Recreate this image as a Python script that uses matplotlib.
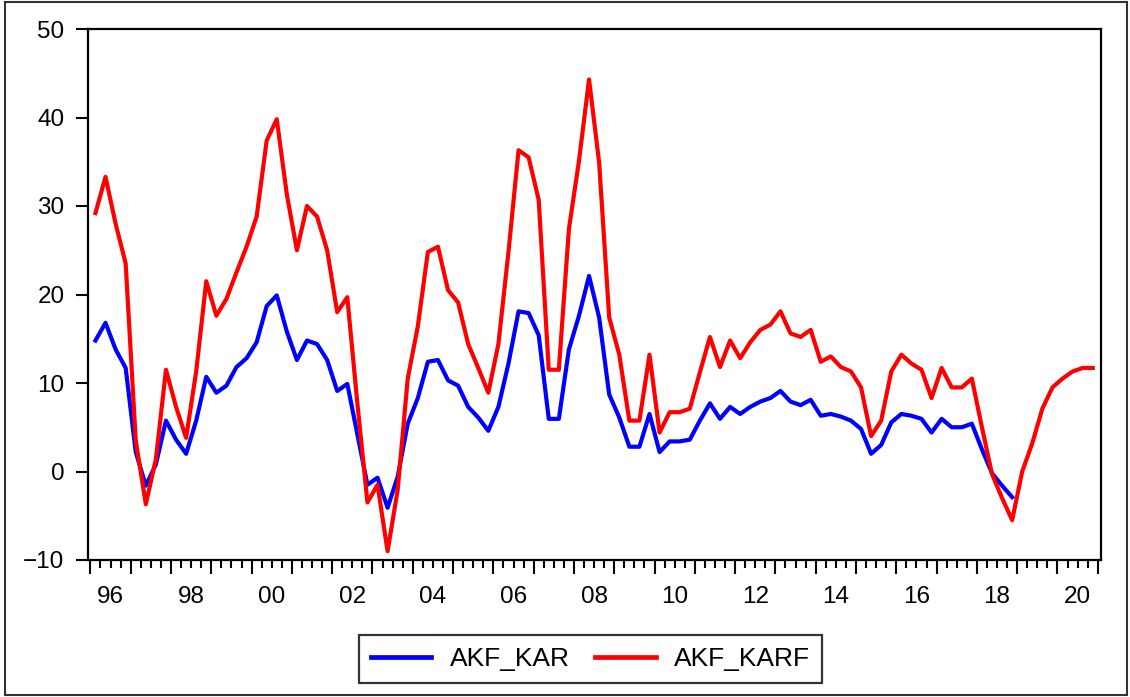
import numpy as np
import pandas as pd
import matplotlib
matplotlib.use('Agg')
import matplotlib.pyplot as plt
from matplotlib.ticker import FixedLocator, NullFormatter
from matplotlib.patches import Rectangle

plt.rcParams['font.family'] = ['Liberation Sans', 'DejaVu Sans']

# quarterly sample 1996Q1 - 2020Q4
quarters = pd.period_range('1996Q1', '2020Q4', freq='Q')

akf_kar = [
    14.8, 16.8, 13.8, 11.7, 2.2, -1.6, 0.8, 5.75, 3.6, 2.0,
    5.75, 10.7, 8.9, 9.7, 11.8, 12.8, 14.6, 18.7, 19.9, 15.8,
    12.6, 14.8, 14.4, 12.6, 9.1, 9.9, 4.2, -1.5, -0.7, -4.1,
    -0.6, 5.4, 8.3, 12.4, 12.6, 10.3, 9.7, 7.3, 6.1, 4.6,
    7.3, 12.2, 18.1, 17.9, 15.4, 5.95, 5.95, 13.8, 17.6, 22.1,
    17.4, 8.7, 6.1, 2.8, 2.8, 6.5, 2.2, 3.4, 3.4, 3.6,
    5.75, 7.7, 5.95, 7.3, 6.5, 7.3, 7.9, 8.3, 9.1, 7.9,
    7.5, 8.1, 6.3, 6.5, 6.2, 5.75, 4.8, 2.0, 3.0, 5.55,
    6.5, 6.3, 5.95, 4.4, 5.95, 5.0, 5.0, 5.4, 2.5, -0.2,
    -1.6, -2.9, None, None, None, None, None, None, None, None,
]

akf_karf = [
    29.2, 33.3, 28.0, 23.5, 3.5, -3.7, 1.4, 11.5, 7.3, 3.8,
    11.3, 21.5, 17.6, 19.5, 22.5, 25.4, 28.8, 37.4, 39.8, 31.3,
    25.0, 30.0, 28.8, 25.0, 18.0, 19.7, 7.7, -3.5, -1.5, -9.0,
    -2.1, 10.5, 16.4, 24.8, 25.4, 20.5, 19.1, 14.4, 11.7, 8.9,
    14.4, 24.8, 36.3, 35.5, 30.7, 11.5, 11.5, 27.4, 35.1, 44.3,
    34.9, 17.4, 13.2, 5.75, 5.75, 13.2, 4.4, 6.7, 6.7, 7.1,
    11.2, 15.2, 11.8, 14.8, 12.8, 14.6, 16.0, 16.6, 18.1, 15.6,
    15.2, 16.0, 12.4, 13.0, 11.8, 11.3, 9.5, 4.0, 5.75, 11.3,
    13.2, 12.2, 11.5, 8.3, 11.7, 9.5, 9.5, 10.5, 5.0, -0.3,
    -3.0, -5.5, 0.0, 3.2, 7.1, 9.5, 10.5, 11.3, 11.7, 11.7,
]

year_labels = ['96', '98', '00', '02', '04', '06', '08', '10', '12', '14', '16', '18', '20']

# each observation sits in the middle of its quarter
x = quarters.year + (quarters.quarter - 0.5) / 4
kar = np.array(akf_kar, dtype=float)
karf = np.array(akf_karf, dtype=float)

fig = plt.figure(figsize=(11.3, 6.97), dpi=100)
ax = fig.add_axes([88 / 1130, 1 - 560 / 697, (1101 - 88) / 1130, (560 - 29) / 697])

ax.plot(x, kar, color='#0000ff', lw=3.0, label='AKF_KAR')
ax.plot(x, karf, color='#ff0000', lw=3.0, label='AKF_KARF')

ax.set_xlim(1995.94, 2021.08)
ax.set_ylim(-10, 50)
ax.set_yticks(range(-10, 51, 10))

years = np.arange(1996, 2022)
ax.xaxis.set_major_locator(FixedLocator(years))
ax.xaxis.set_major_formatter(NullFormatter())
ax.xaxis.set_minor_locator(FixedLocator([yr + q / 4 for yr in years[:-1] for q in (1, 2, 3)]))
ax.tick_params(axis='x', which='major', length=10, width=1.5, direction='out')
ax.tick_params(axis='x', which='minor', length=6, width=1.5, direction='out')
ax.tick_params(axis='y', length=9, width=1.5, pad=8, labelsize=17.5)

# year labels centred in the middle of every second year
for yr, lab in zip(range(1996, 2021, 2), year_labels):
    ax.text(yr + 0.5, -0.07, lab, transform=ax.get_xaxis_transform(),
            ha='center', va='center', fontsize=17.5)

for sp in ax.spines.values():
    sp.set_linewidth(1.6)

leg = fig.legend(loc='center', bbox_to_anchor=(590.5 / 1130, 1 - 659 / 697), ncol=2,
                 fontsize=19, frameon=True, fancybox=False, edgecolor='black',
                 handlelength=2.3, handletextpad=0.7, columnspacing=0.95,
                 borderpad=0.45)
leg.get_frame().set_linewidth(1.6)
for ln in leg.get_lines():
    ln.set_linewidth(3.4)

# outer frame of the graph
fig.patches.append(Rectangle((5 / 1130, 2 / 697), 1122 / 1130, 693 / 697,
                             transform=fig.transFigure, fill=False,
                             edgecolor='#333333', lw=1.5))

fig.savefig('out.png', dpi=100)
